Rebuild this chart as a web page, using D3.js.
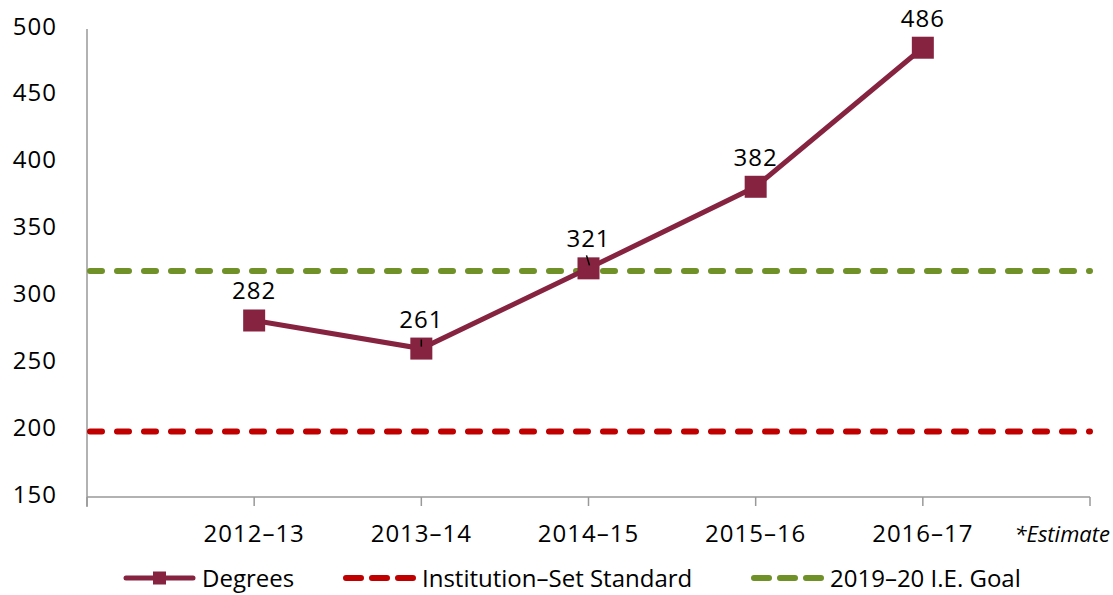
<!DOCTYPE html>
<html>
<head>
<meta charset="utf-8">
<script src="https://d3js.org/d3.v7.min.js"></script>
<style>
  body { margin: 0; background: #fff; }
  text { font-family: "Open Sans", "DejaVu Sans", sans-serif; fill: #000; }
  .num { letter-spacing: 1px; }
</style>
</head>
<body>
<div id="chart"></div>
<script>
// chart data
const years = ["2012\u201313", "2013\u201314", "2014\u201315", "2015\u201316", "2016\u201317"];
const degrees = [282, 261, 321, 382, 486];
const standard = 199;   // Institution-Set Standard
const goal = 319;       // 2019-20 I.E. Goal
const yTicks = [150, 200, 250, 300, 350, 400, 450, 500];

const width = 1113, height = 595;
const margin = { top: 29, right: 23, bottom: 98, left: 87 };
const innerW = width - margin.left - margin.right;
const innerH = height - margin.top - margin.bottom;

const svg = d3.select("#chart").append("svg")
    .attr("width", width)
    .attr("height", height);

const g = svg.append("g")
    .attr("transform", `translate(${margin.left},${margin.top})`);

// x: one empty slot before the first year and one after the last
const x = d3.scaleLinear().domain([0, years.length + 1]).range([0, innerW]);
const y = d3.scaleLinear().domain([150, 500]).range([innerH, 0]);

const axisColor = "#999";
const red = "#C00000", green = "#6F9128", lineColor = "#862340";

// y axis
g.append("line")
    .attr("x1", 0).attr("x2", 0)
    .attr("y1", 0).attr("y2", innerH + 10)
    .attr("stroke", axisColor).attr("stroke-width", 1.5);

g.selectAll(".ylab")
    .data(yTicks)
    .join("text")
    .attr("class", "ylab num")
    .attr("x", -30)
    .attr("y", d => y(d) - 3)
    .attr("dy", "0.36em")
    .attr("text-anchor", "end")
    .style("font-size", "24px")
    .text(d => d);

// x axis
g.append("line")
    .attr("x1", 0).attr("x2", innerW)
    .attr("y1", innerH).attr("y2", innerH)
    .attr("stroke", axisColor).attr("stroke-width", 1.5);

g.selectAll(".xtick")
    .data(d3.range(0, years.length + 2))
    .join("line")
    .attr("class", "xtick")
    .attr("x1", d => x(d)).attr("x2", d => x(d))
    .attr("y1", innerH).attr("y2", innerH + 9)
    .attr("stroke", axisColor).attr("stroke-width", 1.5);

g.selectAll(".xlab")
    .data(years)
    .join("text")
    .attr("class", "xlab num")
    .attr("x", (d, i) => x(i + 1))
    .attr("y", innerH + 45)
    .attr("text-anchor", "middle")
    .style("font-size", "24px")
    .text(d => d);

g.append("text")
    .attr("x", innerW + 20)
    .attr("y", innerH + 45)
    .attr("text-anchor", "end")
    .style("font-size", "22px")
    .style("font-style", "italic")
    .text("*Estimate");

// reference lines
const refs = [
    { value: standard, color: red },
    { value: goal, color: green }
];
g.selectAll(".ref")
    .data(refs)
    .join("line")
    .attr("class", "ref")
    .attr("x1", 3).attr("x2", innerW)
    .attr("y1", d => y(d.value)).attr("y2", d => y(d.value))
    .attr("stroke", d => d.color)
    .attr("stroke-width", 6)
    .attr("stroke-linecap", "round")
    .attr("stroke-dasharray", "12,15");

// degrees line
const line = d3.line()
    .x((d, i) => x(i + 1))
    .y(d => y(d));

g.append("path")
    .datum(degrees)
    .attr("fill", "none")
    .attr("stroke", lineColor)
    .attr("stroke-width", 5)
    .attr("d", line);

const mk = 22;
g.selectAll(".marker")
    .data(degrees)
    .join("rect")
    .attr("class", "marker")
    .attr("x", (d, i) => x(i + 1) - mk / 2)
    .attr("y", d => y(d) - mk / 2)
    .attr("width", mk).attr("height", mk)
    .attr("fill", lineColor);

// small leader lines on two labels
g.append("line")
    .attr("x1", x(2)).attr("x2", x(2))
    .attr("y1", y(degrees[1]) - 9).attr("y2", y(degrees[1]) - 2)
    .attr("stroke", "#000").attr("stroke-width", 1.5);
g.append("line")
    .attr("x1", x(3) - 2).attr("x2", x(3) + 1)
    .attr("y1", y(degrees[2]) - 13).attr("y2", y(degrees[2]) - 3)
    .attr("stroke", "#000").attr("stroke-width", 1.5);

g.selectAll(".dlab")
    .data(degrees)
    .join("text")
    .attr("class", "dlab num")
    .attr("x", (d, i) => x(i + 1))
    .attr("y", d => y(d) - 21)
    .attr("text-anchor", "middle")
    .style("font-size", "24px")
    .text(d => d);

// legend
const legend = svg.append("g").attr("transform", "translate(0,578)");
const items = [
    { label: "Degrees", color: lineColor, x: 123, dash: null, marker: true },
    { label: "Institution\u2013Set Standard", color: red, x: 343, dash: "15,11", marker: false },
    { label: "2019\u201320 I.E. Goal", color: green, x: 751, dash: "15,11", marker: false }
];
items.forEach(it => {
    legend.append("line")
        .attr("x1", it.x + 3).attr("x2", it.x + 70)
        .attr("y1", 0).attr("y2", 0)
        .attr("stroke", it.color)
        .attr("stroke-width", it.marker ? 5 : 6)
        .attr("stroke-linecap", "round")
        .attr("stroke-dasharray", it.dash);
    if (it.marker) {
        legend.append("rect")
            .attr("x", it.x + 30).attr("y", -6.5)
            .attr("width", 13).attr("height", 13)
            .attr("fill", it.color);
    }
    legend.append("text")
        .attr("x", it.x + 79)
        .attr("y", 0)
        .attr("dy", "0.36em")
        .style("font-size", "24px")
        .text(it.label);
});
</script>
</body>
</html>
